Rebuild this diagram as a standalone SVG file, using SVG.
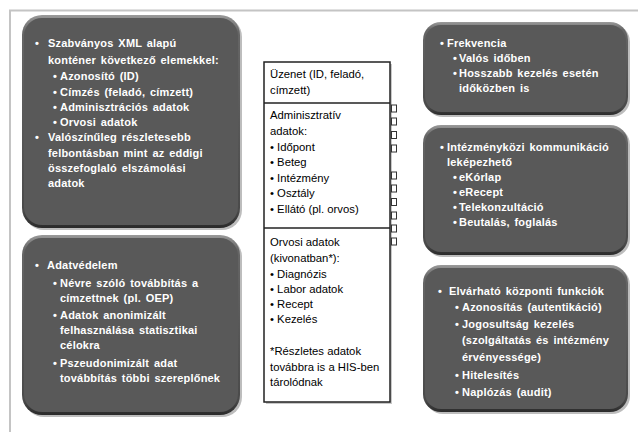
<svg xmlns="http://www.w3.org/2000/svg" width="638" height="432" viewBox="0 0 638 432">
<defs>
<linearGradient id="rim" x1="0" y1="0" x2="0" y2="1">
<stop offset="0" stop-color="#9a9a9a"/>
<stop offset="0.08" stop-color="#666"/>
<stop offset="0.92" stop-color="#4a4a4a"/>
<stop offset="1" stop-color="#2a2a2a"/>
</linearGradient>
<style>
.shadow{fill:#bdbdbd}
.rim{fill:url(#rim)}
.face{fill:#595959}
.wt{fill:#fff;font-family:"Liberation Sans",Arial,sans-serif;font-size:11px;font-weight:bold;letter-spacing:0.2px;word-spacing:1.5px}
.bt{fill:#000;font-family:"Liberation Sans",Arial,sans-serif;font-size:11.3px}
.sq{fill:#fff;stroke:#333;stroke-width:1}
</style>
</defs>
<rect width="638" height="432" fill="#fff"/>
<g id="frame">
<line x1="9" y1="10.5" x2="638" y2="10.5" stroke="#c4c4c4" stroke-width="2"/>
<line x1="10" y1="10" x2="10" y2="432" stroke="#c4c4c4" stroke-width="2"/>
</g>

<g id="box-xml">
<rect class="shadow" x="24" y="17" width="218" height="213" rx="20"/>
<rect class="rim" x="22" y="15" width="218" height="213" rx="20"/>
<rect class="face" x="24" y="18" width="214" height="207" rx="18"/>
<text class="wt" x="35" y="47">•</text>
<text class="wt" x="48" y="47">Szabványos XML alapú</text>
<text class="wt" x="48" y="64">konténer következő elemekkel:</text>
<text class="wt" x="53" y="80">•</text><text class="wt" x="60" y="80">Azonosító (ID)</text>
<text class="wt" x="53" y="96">•</text><text class="wt" x="60" y="96">Címzés (feladó, címzett)</text>
<text class="wt" x="53" y="111">•</text><text class="wt" x="60" y="111">Adminisztrációs adatok</text>
<text class="wt" x="53" y="126">•</text><text class="wt" x="60" y="126">Orvosi adatok</text>
<text class="wt" x="35" y="141">•</text>
<text class="wt" x="48" y="141">Valószínűleg részletesebb</text>
<text class="wt" x="48" y="157">felbontásban mint az eddigi</text>
<text class="wt" x="48" y="172">összefoglaló elszámolási</text>
<text class="wt" x="48" y="187">adatok</text>
</g>

<g id="box-adatvedelem">
<rect class="shadow" x="24" y="237" width="218" height="180" rx="20"/>
<rect class="rim" x="22" y="235" width="218" height="180" rx="20"/>
<rect class="face" x="24" y="238" width="214" height="174" rx="18"/>
<text class="wt" x="35" y="269">•</text><text class="wt" x="47" y="269">Adatvédelem</text>
<text class="wt" x="53" y="287">•</text><text class="wt" x="60" y="287">Névre szóló továbbítás a</text>
<text class="wt" x="60" y="302">címzettnek (pl. OEP)</text>
<text class="wt" x="53" y="319">•</text><text class="wt" x="60" y="319">Adatok anonimizált</text>
<text class="wt" x="60" y="334">felhasználása statisztikai</text>
<text class="wt" x="60" y="349">célokra</text>
<text class="wt" x="53" y="367">•</text><text class="wt" x="60" y="367">Pszeudonimizált adat</text>
<text class="wt" x="60" y="382">továbbítás többi szereplőnek</text>
</g>

<g id="message">
<rect x="266" y="64" width="126" height="340" fill="#c8c8c8"/>
<rect x="264" y="62" width="126" height="340" fill="#fff" stroke="#222" stroke-width="1.5"/>
<line x1="264" y1="103" x2="390" y2="103" stroke="#222" stroke-width="1.5"/>
<line x1="264" y1="228" x2="390" y2="228" stroke="#222" stroke-width="1.5"/>
<text class="bt" x="270" y="78">Üzenet (ID, feladó,</text>
<text class="bt" x="270" y="94">címzett)</text>
<text class="bt" x="270" y="119">Adminisztratív</text>
<text class="bt" x="270" y="135">adatok:</text>
<text class="bt" x="270" y="151">• Időpont</text>
<text class="bt" x="270" y="166">• Beteg</text>
<text class="bt" x="270" y="182">• Intézmény</text>
<text class="bt" x="270" y="197">• Osztály</text>
<text class="bt" x="270" y="213">• Ellátó (pl. orvos)</text>
<text class="bt" x="270" y="246">Orvosi adatok</text>
<text class="bt" x="270" y="262">(kivonatban*):</text>
<text class="bt" x="270" y="278">• Diagnózis</text>
<text class="bt" x="270" y="293">• Labor adatok</text>
<text class="bt" x="270" y="308">• Recept</text>
<text class="bt" x="270" y="323">• Kezelés</text>
<text class="bt" x="270" y="355">*Részletes adatok</text>
<text class="bt" x="270" y="371">továbbra is a HIS-ben</text>
<text class="bt" x="270" y="386">tárolódnak</text>
<g id="ports">
<rect class="sq" x="391.5" y="105" width="5" height="7"/>
<rect class="sq" x="391.5" y="118" width="5" height="7"/>
<rect class="sq" x="391.5" y="131.5" width="5" height="7"/>
<rect class="sq" x="391.5" y="145" width="5" height="7"/>
<rect class="sq" x="391.5" y="172" width="5" height="7"/>
<rect class="sq" x="391.5" y="185" width="5" height="7"/>
<rect class="sq" x="391.5" y="198.5" width="5" height="7"/>
<rect class="sq" x="391.5" y="212" width="5" height="7"/>
<rect class="sq" x="391.5" y="225" width="5" height="7"/>
<rect class="sq" x="391.5" y="238" width="5" height="7"/>
</g>
</g>

<g id="box-frekvencia">
<rect class="shadow" x="425" y="24" width="205" height="93" rx="18"/>
<rect class="rim" x="423" y="22" width="205" height="93" rx="18"/>
<rect class="face" x="425" y="25" width="201" height="87" rx="16"/>
<text class="wt" x="440" y="47">•</text><text class="wt" x="447" y="47">Frekvencia</text>
<text class="wt" x="453" y="62">•</text><text class="wt" x="459" y="62">Valós időben</text>
<text class="wt" x="453" y="77">•</text><text class="wt" x="459" y="77">Hosszabb kezelés esetén</text>
<text class="wt" x="459" y="92">időközben is</text>
</g>

<g id="box-intezmenykozi">
<rect class="shadow" x="425" y="127" width="205" height="130" rx="18"/>
<rect class="rim" x="423" y="125" width="205" height="130" rx="18"/>
<rect class="face" x="425" y="128" width="201" height="124" rx="16"/>
<text class="wt" x="440" y="151">•</text><text class="wt" x="447" y="151">Intézményközi kommunikáció</text>
<text class="wt" x="447" y="166">leképezhető</text>
<text class="wt" x="453" y="181">•</text><text class="wt" x="459" y="181">eKórlap</text>
<text class="wt" x="453" y="196">•</text><text class="wt" x="459" y="196">eRecept</text>
<text class="wt" x="453" y="211">•</text><text class="wt" x="459" y="211">Telekonzultáció</text>
<text class="wt" x="453" y="226">•</text><text class="wt" x="459" y="226">Beutalás, foglalás</text>
</g>

<g id="box-funkciok">
<rect class="shadow" x="425" y="267" width="205" height="147" rx="18"/>
<rect class="rim" x="423" y="265" width="205" height="147" rx="18"/>
<rect class="face" x="425" y="268" width="201" height="141" rx="16"/>
<text class="wt" x="438" y="295">•</text><text class="wt" x="449" y="295">Elvárható központi funkciók</text>
<text class="wt" x="455" y="311">•</text><text class="wt" x="462" y="311">Azonosítás (autentikáció)</text>
<text class="wt" x="455" y="328">•</text><text class="wt" x="462" y="328">Jogosultság kezelés</text>
<text class="wt" x="462" y="344">(szolgáltatás és intézmény</text>
<text class="wt" x="462" y="361">érvényessége)</text>
<text class="wt" x="455" y="379">•</text><text class="wt" x="462" y="379">Hitelesítés</text>
<text class="wt" x="455" y="396">•</text><text class="wt" x="462" y="396">Naplózás (audit)</text>
</g>
</svg>
